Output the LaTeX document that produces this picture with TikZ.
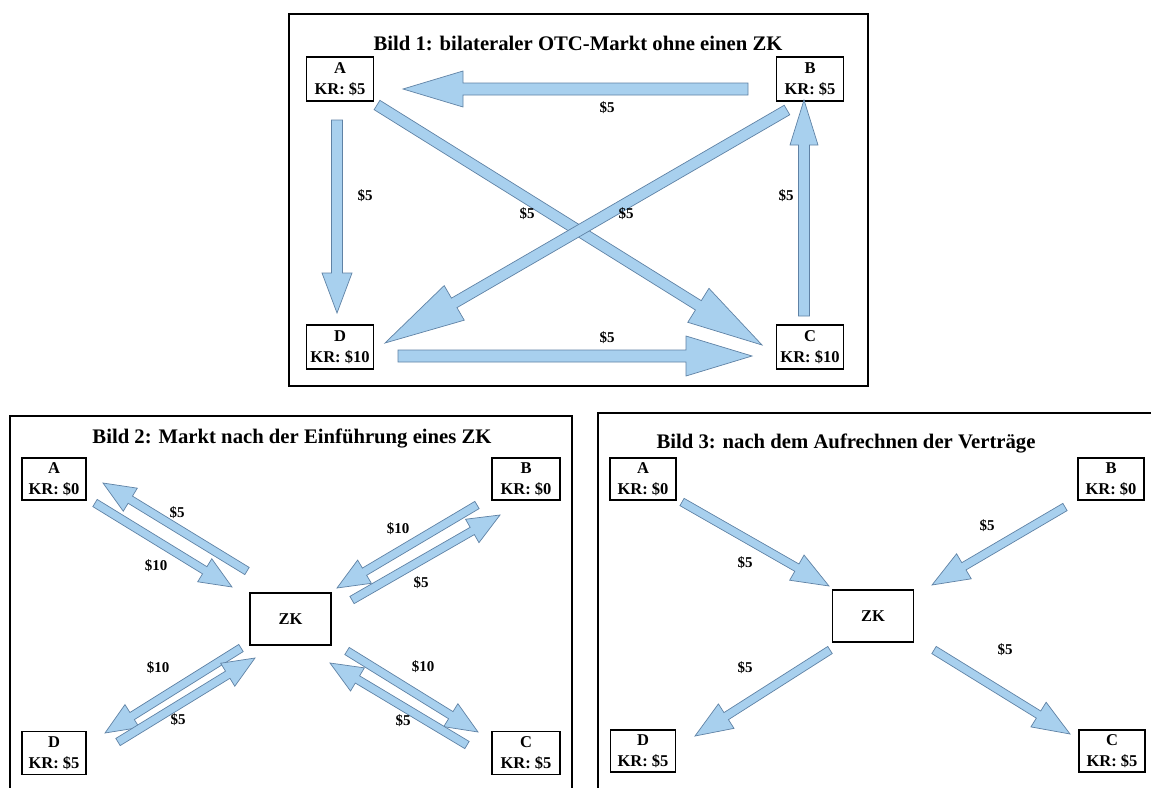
\documentclass[tikz,border=0pt]{standalone}
\usepackage{fontspec}
\setmainfont{Liberation Serif}
\usetikzlibrary{calc}
\definecolor{afill}{RGB}{168,208,238}
\definecolor{aline}{RGB}{95,130,165}
\tikzset{
  box/.style={draw=black, line width=1.6pt, minimum width=67pt, minimum height=44pt, inner sep=0pt, align=center, font=\fontsize{16.5}{20.5}\selectfont\bfseries},
  zkbox/.style={box, minimum width=81pt, minimum height=52pt},
  ttl/.style={font=\fontsize{20.7}{24}\selectfont\bfseries, inner sep=0pt},
  lbl/.style={font=\fontsize{15}{17}\selectfont\bfseries, inner sep=0pt},
  frame/.style={draw=black, line width=2pt},
  barrow/.style={fill=afill, draw=aline, line width=0.7pt, line join=miter},
}
\newcommand\blockarrow[5]{%
  \coordinate (bH) at ($(#2)!#5!(#1)$);
  \draw[barrow] ($(#1)!#3!90:(#2)$) -- ($(bH)!#3!-90:(#1)$) -- ($(bH)!#4!-90:(#1)$) -- (#2)
     -- ($(bH)!#4!90:(#1)$) -- ($(bH)!#3!90:(#1)$) -- ($(#1)!#3!-90:(#2)$) -- cycle;
}
\begin{document}
\begin{tikzpicture}[x=1pt,y=-1pt]
\useasboundingbox (0,0) rectangle (1151,787);
\clip (0,0) rectangle (1151,787);
\fill[white] (0,0) rectangle (1151,787);
% ---------- frames
\draw[frame] (289,14) rectangle (868,386);
\draw[frame] (10,416) rectangle (572,800);
\draw[frame] (598,413) rectangle (1170,800);
% ---------- Bild 1
\node[ttl] (t1) at (578,43) {Bild 1: bilateraler OTC-Markt ohne einen ZK};
\node[box] (A1) at (340,79) {A\\KR: \$5};
\node[box] (B1) at (810,79) {B\\KR: \$5};
\node[box] (D1) at (340,347) {D\\KR: \$10};
\node[box] (C1) at (810,347) {C\\KR: \$10};
\coordinate (ba1) at (748,89);  \coordinate (ba2) at (403,89);
\coordinate (ad1) at (337,120); \coordinate (ad2) at (337,313);
\coordinate (cb1) at (804,316); \coordinate (cb2) at (804,100);
\coordinate (dc1) at (398,356); \coordinate (dc2) at (752,356);
\coordinate (ac1) at (377,105); \coordinate (ac2) at (762,345);
\coordinate (bd1) at (787,110); \coordinate (bd2) at (385,343);
\blockarrow{ba1}{ba2}{6pt}{18pt}{60pt}
\blockarrow{ad1}{ad2}{5.5pt}{15pt}{40pt}
\blockarrow{cb1}{cb2}{5.5pt}{14pt}{45pt}
\blockarrow{dc1}{dc2}{6pt}{20pt}{66pt}
\blockarrow{ac1}{ac2}{5.5pt}{20pt}{75pt}
\blockarrow{bd1}{bd2}{5.5pt}{20pt}{80pt}
\node[lbl] (l1) at (607,108) {\$5};
\node[lbl] (l2) at (365,196) {\$5};
\node[lbl] (l3) at (786,196) {\$5};
\node[lbl] (l4) at (527,214) {\$5};
\node[lbl] (l5) at (626,214) {\$5};
\node[lbl] (l6) at (607,338) {\$5};
% ---------- Bild 2
\node[ttl] (t2) at (292,438) {Bild 2: Markt nach der Einführung eines ZK};
\node[box, minimum width=64pt, minimum height=42pt] (A2) at (54,479) {A\\KR: \$0};
\node[box, minimum width=68pt, minimum height=42pt] (B2) at (526,479) {B\\KR: \$0};
\node[zkbox] (Z2) at (290.5,619) {ZK};
\node[box, minimum width=64pt, minimum height=43pt] (D2) at (54,753) {D\\KR: \$5};
\node[box, minimum width=68pt, minimum height=43pt] (C2) at (526,753) {C\\KR: \$5};
\coordinate (za1) at (247,571); \coordinate (za2) at (103,483);
\coordinate (az1) at (95,503);  \coordinate (az2) at (232,587);
\coordinate (bz1) at (477,505); \coordinate (bz2) at (337,588);
\coordinate (zb1) at (352,600); \coordinate (zb2) at (500,515);
\coordinate (zd1) at (241,648); \coordinate (zd2) at (105,733);
\coordinate (dz1) at (118,742); \coordinate (dz2) at (255,658);
\coordinate (zc1) at (347,651); \coordinate (zc2) at (478,732);
\coordinate (cz1) at (467,745); \coordinate (cz2) at (330,663);
\blockarrow{za1}{za2}{4.2pt}{13.5pt}{32pt}
\blockarrow{az1}{az2}{4.2pt}{13.5pt}{32pt}
\blockarrow{bz1}{bz2}{4.2pt}{13.5pt}{32pt}
\blockarrow{zb1}{zb2}{4.2pt}{13.5pt}{32pt}
\blockarrow{zd1}{zd2}{4.2pt}{13.5pt}{32pt}
\blockarrow{dz1}{dz2}{4.2pt}{13.5pt}{32pt}
\blockarrow{zc1}{zc2}{4.2pt}{13.5pt}{32pt}
\blockarrow{cz1}{cz2}{4.2pt}{13.5pt}{32pt}
\node[lbl] (m1) at (177,513) {\$5};
\node[lbl] (m2) at (156,566) {\$10};
\node[lbl] (m3) at (398,529) {\$10};
\node[lbl] (m4) at (421,583) {\$5};
\node[lbl] (m5) at (158,668) {\$10};
\node[lbl] (m6) at (178,720) {\$5};
\node[lbl] (m7) at (423,667) {\$10};
\node[lbl] (m8) at (403,721) {\$5};
% ---------- Bild 3
\node[ttl] (t3) at (846,443) {Bild 3: nach dem Aufrechnen der Verträge};
\node[box, minimum width=66pt, minimum height=42pt] (A3) at (643,479) {A\\KR: \$0};
\node[box, minimum width=66pt, minimum height=42pt] (B3) at (1111,479) {B\\KR: \$0};
\node[zkbox] (Z3) at (873,616) {ZK};
\node[box, minimum width=65pt, minimum height=42pt] (D3) at (643,751) {D\\KR: \$5};
\node[box, minimum width=66pt, minimum height=42pt] (C3) at (1112,751) {C\\KR: \$5};
\coordinate (az3a) at (682,502);  \coordinate (az3b) at (829,586);
\coordinate (bz3a) at (1065,507); \coordinate (bz3b) at (932,585);
\coordinate (zd3a) at (830,650);  \coordinate (zd3b) at (695,736);
\coordinate (zc3a) at (934,650);  \coordinate (zc3b) at (1070,734);
\blockarrow{az3a}{az3b}{4.2pt}{14.5pt}{37pt}
\blockarrow{bz3a}{bz3b}{4.2pt}{14.5pt}{37pt}
\blockarrow{zd3a}{zd3b}{4.2pt}{14.5pt}{37pt}
\blockarrow{zc3a}{zc3b}{4.2pt}{14.5pt}{37pt}
\node[lbl] (n1) at (745,563) {\$5};
\node[lbl] (n2) at (987,526) {\$5};
\node[lbl] (n3) at (745,668) {\$5};
\node[lbl] (n4) at (1005,650) {\$5};
\end{tikzpicture}
\end{document}
